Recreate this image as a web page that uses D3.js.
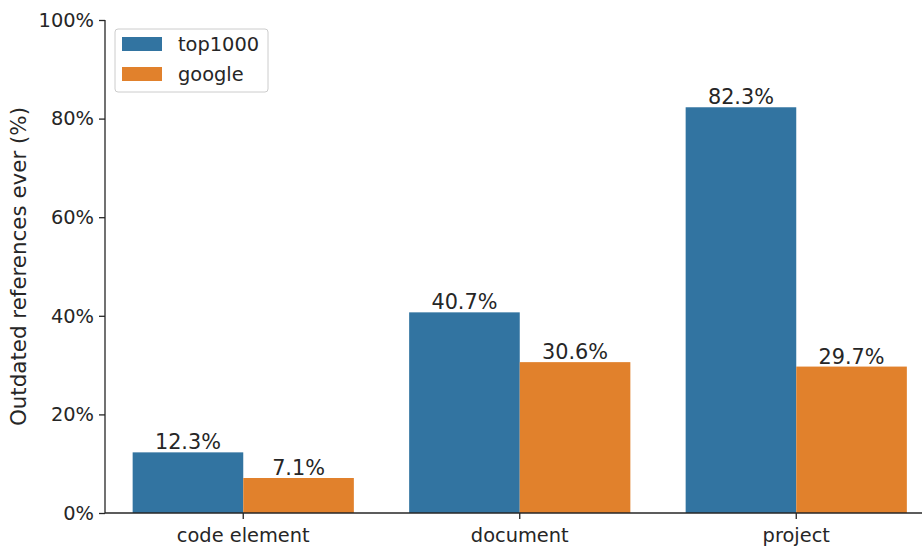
<!DOCTYPE html>
<html>
<head>
<meta charset="utf-8">
<script src="https://cdn.jsdelivr.net/npm/d3@7"></script>
<style>
  body { margin: 0; background: #fff; }
  text { font-family: "DejaVu Sans", sans-serif; fill: #262626; }
</style>
</head>
<body>
<div id="chart"></div>
<script>
// data
const categories = ["code element", "document", "project"];
const seriesNames = ["top1000", "google"];
const top1000 = [12.3, 40.7, 82.3];
const google = [7.1, 30.6, 29.7];
const yTicks = [0, 20, 40, 60, 80, 100];
const colors = ["#3274a1", "#e1812c"];

const width = 922, height = 549;
const margin = { left: 105, top: 20, bottom: 36 };
const plotRight = 934.5;
const y0 = height - margin.bottom;
const ink = "#262626";

const svg = d3.select("#chart").append("svg")
  .attr("width", width).attr("height", height);

const x = d3.scaleBand().domain(categories).range([margin.left, plotRight]).padding(0);
const xs = d3.scaleBand().domain(seriesNames)
  .range([x.bandwidth() * 0.1, x.bandwidth() * 0.9]).padding(0);
const y = d3.scaleLinear().domain([0, 100]).range([y0, margin.top]);

const rows = categories.map((c, i) => ({ cat: c, values: [top1000[i], google[i]] }));

// bars
const groups = svg.selectAll(".grp").data(rows).enter().append("g")
  .attr("transform", d => `translate(${x(d.cat)},0)`);

groups.selectAll("rect")
  .data(d => d.values.map((v, j) => ({ name: seriesNames[j], v, j })))
  .enter().append("rect")
  .attr("x", d => xs(d.name))
  .attr("width", xs.bandwidth())
  .attr("y", d => y(d.v))
  .attr("height", d => y0 - y(d.v))
  .attr("fill", d => colors[d.j]);

groups.selectAll(".lbl")
  .data(d => d.values.map((v, j) => ({ name: seriesNames[j], v, j })))
  .enter().append("text")
  .attr("x", d => xs(d.name) + xs.bandwidth() / 2)
  .attr("y", d => y(d.v) - 3)
  .attr("text-anchor", "middle")
  .style("font-size", "20.8px")
  .text(d => d.v.toFixed(1) + "%");

// axes
const yAxis = d3.axisLeft(y).tickValues(yTicks).tickSize(6).tickPadding(5)
  .tickFormat(d => d + "%");
const gy = svg.append("g").attr("transform", `translate(${margin.left},0)`).call(yAxis);
gy.select(".domain").attr("d", `M0,${y(100)}V${y0}`).attr("stroke", ink).attr("stroke-width", 1.3);
gy.selectAll(".tick line").attr("stroke", ink).attr("stroke-width", 1.3);
gy.selectAll(".tick text").style("font-size", "19.4px").attr("font-family", "DejaVu Sans").attr("fill", ink);

const xAxis = d3.axisBottom(x).tickSize(6).tickPadding(9);
const gx = svg.append("g").attr("transform", `translate(0,${y0})`).call(xAxis);
gx.select(".domain").attr("d", `M${margin.left},0H${plotRight}`).attr("stroke", ink).attr("stroke-width", 1.3);
gx.selectAll(".tick line").attr("stroke", ink).attr("stroke-width", 1.3);
gx.selectAll(".tick text").style("font-size", "19.4px").attr("font-family", "DejaVu Sans").attr("fill", ink);

// y label
svg.append("text")
  .attr("transform", `translate(26,${(y0 + margin.top) / 2}) rotate(-90)`)
  .attr("text-anchor", "middle")
  .style("font-size", "21.4px")
  .text("Outdated references ever (%)");

// legend
const legend = svg.append("g").attr("transform", "translate(115,29)");
legend.append("rect")
  .attr("width", 153).attr("height", 63).attr("rx", 3)
  .attr("fill", "#fff").attr("fill-opacity", 0.8)
  .attr("stroke", "#ccc");
seriesNames.forEach((s, i) => {
  legend.append("rect")
    .attr("x", 7).attr("y", 8 + i * 30)
    .attr("width", 40).attr("height", 14)
    .attr("fill", colors[i]);
  legend.append("text")
    .attr("x", 63).attr("y", 22 + i * 30)
    .style("font-size", "19.4px")
    .text(s);
});
</script>
</body>
</html>
